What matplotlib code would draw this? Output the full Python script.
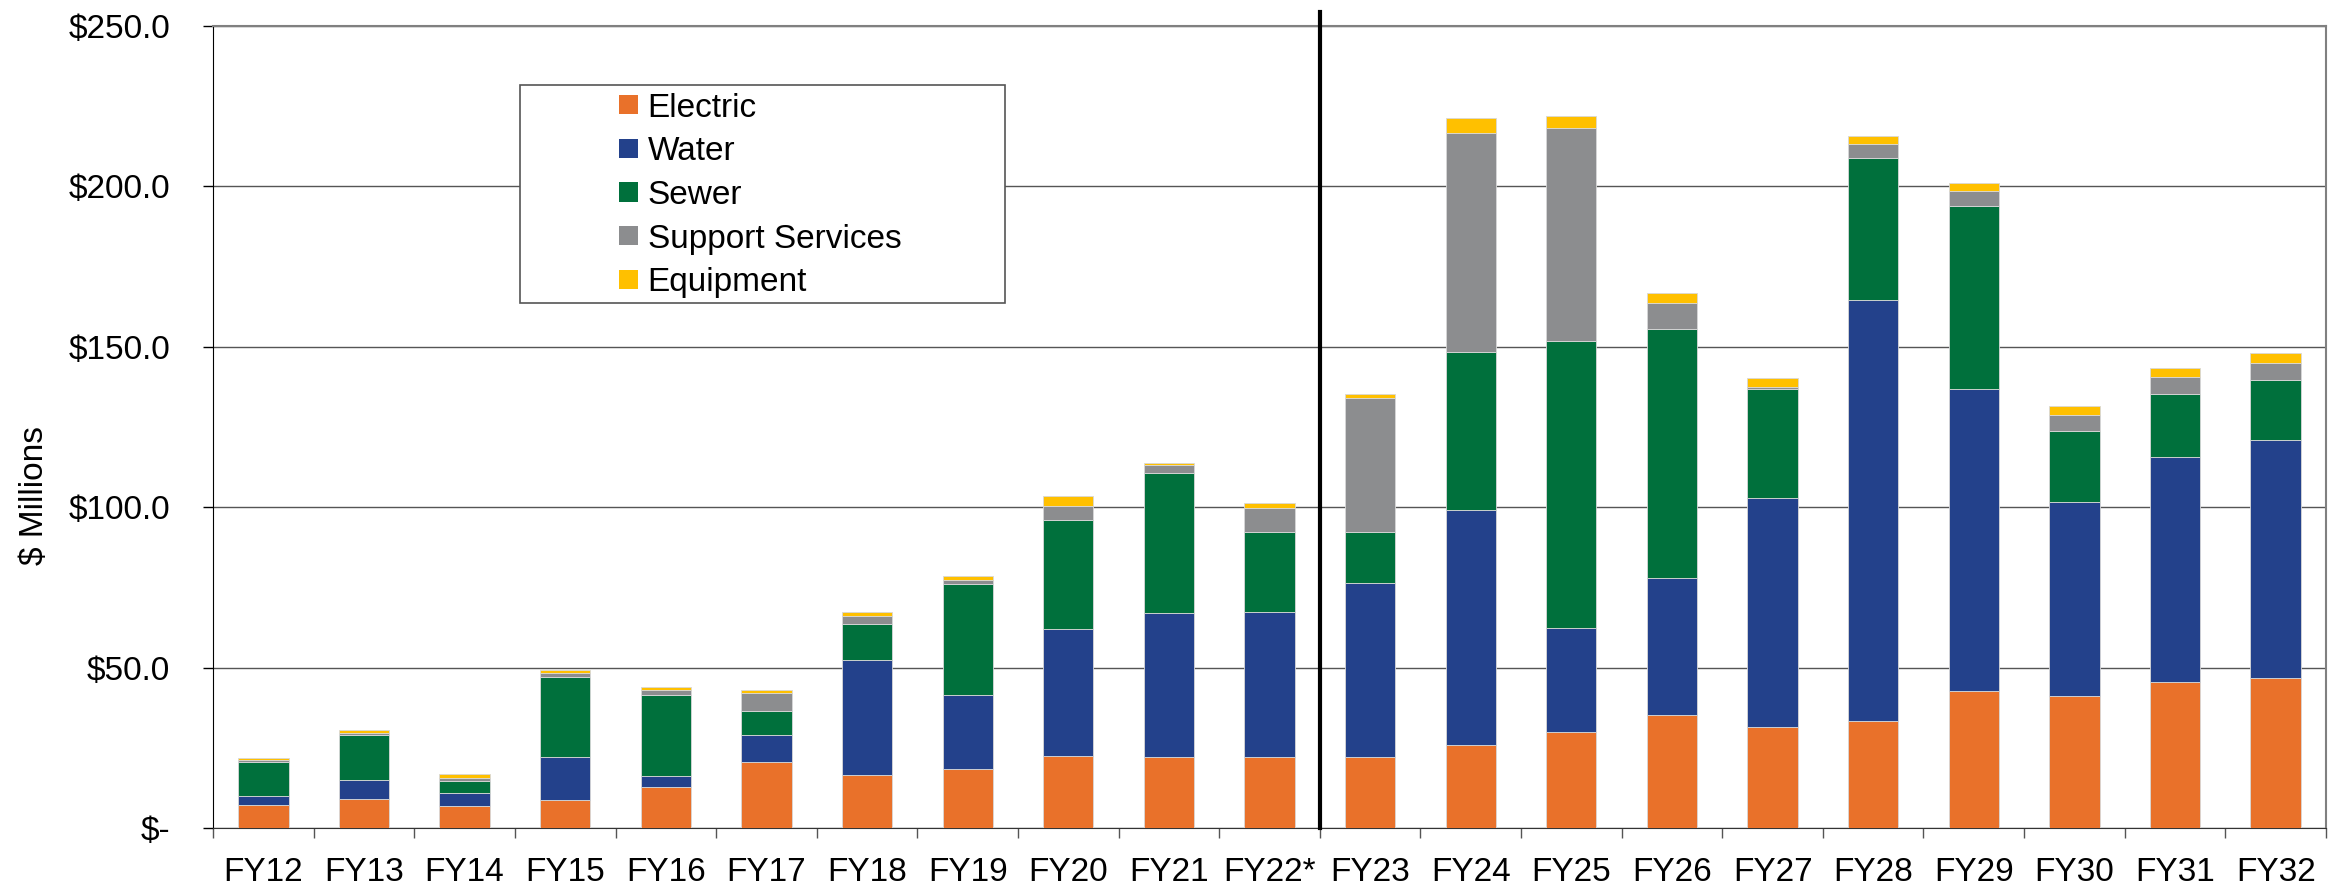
import numpy as np
import matplotlib
matplotlib.use("Agg")
import matplotlib.pyplot as plt
from matplotlib.patches import Rectangle, Patch
from matplotlib.ticker import FuncFormatter, FixedLocator

plt.rcParams["font.family"] = ["Liberation Sans", "DejaVu Sans"]

# ----------------------------------------------------------------------
# Datos (millones de $)
# ----------------------------------------------------------------------
years = ["FY12", "FY13", "FY14", "FY15", "FY16", "FY17", "FY18", "FY19",
         "FY20", "FY21", "FY22*", "FY23", "FY24", "FY25", "FY26", "FY27",
         "FY28", "FY29", "FY30", "FY31", "FY32"]

electric = [7.1, 9.0, 6.9, 8.7, 12.7, 20.5, 16.4, 18.4, 22.4, 22.1, 22.1,
            22.1, 26.0, 29.8, 35.3, 31.4, 33.4, 42.7, 41.0, 45.6, 46.8]
water = [3.0, 6.0, 4.0, 13.4, 3.5, 8.6, 36.0, 22.9, 39.6, 45.0, 45.2,
         54.2, 73.0, 32.5, 42.6, 71.4, 131.1, 94.3, 60.5, 69.9, 74.3]
sewer = [10.4, 14.1, 3.6, 24.9, 25.1, 7.4, 11.3, 34.8, 33.9, 43.6, 24.9,
         16.0, 49.5, 89.4, 77.5, 34.2, 44.4, 56.9, 22.4, 19.9, 18.7]
support = [0.7, 0.6, 1.2, 1.2, 1.8, 5.5, 2.5, 1.1, 4.6, 2.3, 7.4,
           41.7, 68.1, 66.5, 8.3, 0.5, 4.4, 4.7, 4.8, 5.3, 5.3]
equipment = [0.5, 0.7, 1.1, 1.2, 0.9, 1.1, 1.1, 1.5, 3.1, 0.9, 1.7,
             1.2, 4.8, 3.7, 3.1, 2.9, 2.4, 2.5, 2.7, 2.7, 3.0]

series_names = ["Electric", "Water", "Sewer", "Support Services", "Equipment"]
series_colors = ["#E9712A", "#23418B", "#00703C", "#8C8D8F", "#FFC000"]

# ----------------------------------------------------------------------
# Grafico
# ----------------------------------------------------------------------
fig = plt.figure(figsize=(23.36, 8.88), dpi=100)
ax = fig.add_axes([0.0912, 0.0676, 0.9045, 0.9031])

x = np.arange(len(years))
bottom = np.zeros(len(years))
for vals, name, col in zip([electric, water, sewer, support, equipment],
                           series_names, series_colors):
    ax.bar(x, vals, width=0.5, bottom=bottom, color=col, label=name,
           edgecolor="#d8d8d8", linewidth=0.6, zorder=3)
    bottom += np.array(vals)

ax.set_xlim(-0.5, len(years) - 0.5)
ax.set_ylim(0, 250)

# linea vertical entre real y proyectado
ax.plot([10.5, 10.5], [0, 254.5], color="black", linewidth=3,
        clip_on=False, zorder=5)

# eje y
ax.set_yticks([0, 50, 100, 150, 200, 250])
ax.yaxis.set_major_formatter(FuncFormatter(
    lambda v, p: "$-" if v == 0 else f"${v:.1f}"))
ax.tick_params(axis="y", length=7, width=1, pad=24, labelsize=24,
               colors="black")
ax.grid(axis="y", color="#555555", linewidth=1, zorder=0)
ax.set_ylabel("$ Millions", fontsize=24, labelpad=0)
ax.yaxis.set_label_coords(-0.077, 0.415)

# eje x
ax.set_xticks(x)
ax.set_xticklabels(years)
ax.xaxis.set_minor_locator(FixedLocator(np.arange(-0.5, len(years), 1.0)))
ax.tick_params(axis="x", which="major", length=0, pad=21, labelsize=24)
ax.tick_params(axis="x", which="minor", length=7, width=1, color="#555555")

for side in ["top", "right"]:
    ax.spines[side].set_color("#808080")
    ax.spines[side].set_linewidth(1.5)
ax.spines["left"].set_color("black")
ax.spines["bottom"].set_color("#333333")

# leyenda con caja propia
box = Rectangle((0.1453, 0.6546), 0.2295, 0.2718, transform=ax.transAxes,
                facecolor="white", edgecolor="#555555", linewidth=1.2,
                zorder=6)
ax.add_patch(box)
handles = [Patch(facecolor=c, edgecolor="none") for c in series_colors]
leg = ax.legend(handles, series_names, loc="upper left",
                bbox_to_anchor=(0.192, 0.917), frameon=False, fontsize=24,
                handlelength=0.57, handleheight=0.52, handletextpad=0.3,
                labelspacing=0.38, borderpad=0, borderaxespad=0)
leg.set_zorder(7)

plt.savefig("out.png", dpi=100)
